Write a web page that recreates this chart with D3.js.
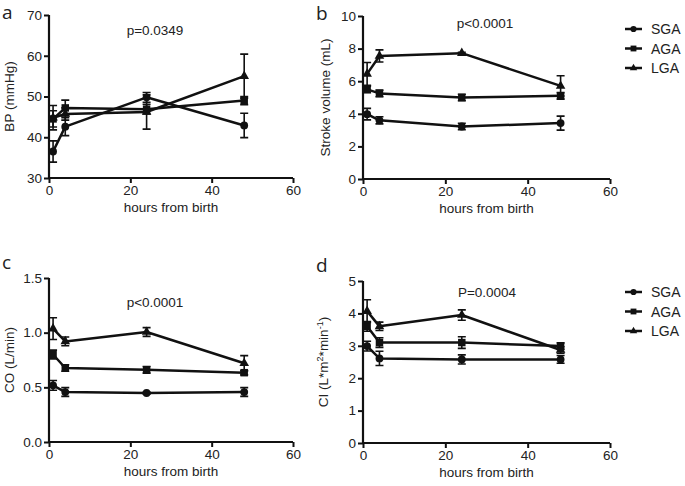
<!DOCTYPE html>
<html>
<head>
<meta charset="utf-8">
<script src="https://cdn.jsdelivr.net/npm/d3@7"></script>
<style>
  body { margin: 0; background: #fff; }
  text { font-family: "Liberation Sans", Arial, sans-serif; fill: #222; }
</style>
</head>
<body>
<svg id="chart" width="685" height="486"></svg>
<script>
// 1: DATA
const hours = [1, 4, 24, 48];
const groups = ["SGA", "AGA", "LGA"];

// BP (mmHg)
const bpSGA = [36.5, 42.6, 49.8, 42.9];
const bpSGAerr = [2.6, 2.2, 1.2, 3.0];
const bpAGA = [44.5, 47.2, 46.9, 49.0];
const bpAGAerr = [2.0, 1.9, 1.2, 1.0];
const bpLGA = [44.8, 45.7, 46.2, 55.0];
const bpLGAerr = [3.0, 1.5, 4.2, 5.4];

// Stroke volume (mL)
const svSGA = [3.98, 3.6, 3.22, 3.43];
const svSGAerr = [0.35, 0.22, 0.2, 0.43];
const svAGA = [5.5, 5.25, 5.0, 5.1];
const svAGAerr = [0.2, 0.2, 0.2, 0.2];
const svLGA = [6.45, 7.55, 7.72, 5.71];
const svLGAerr = [0.7, 0.37, 0.05, 0.62];

// CO (L/min)
const coSGA = [0.518, 0.457, 0.448, 0.457];
const coSGAerr = [0.045, 0.04, 0.01, 0.04];
const coAGA = [0.8, 0.677, 0.66, 0.634];
const coAGAerr = [0.04, 0.03, 0.03, 0.02];
const coLGA = [1.037, 0.92, 1.006, 0.72];
const coLGAerr = [0.1, 0.04, 0.04, 0.07];

// CI (L*m2*min-1)
const ciSGA = [2.99, 2.61, 2.58, 2.58];
const ciSGAerr = [0.15, 0.22, 0.14, 0.12];
const ciAGA = [3.6, 3.1, 3.1, 2.99];
const ciAGAerr = [0.15, 0.15, 0.18, 0.1];
const ciLGA = [4.07, 3.6, 3.95, 2.87];
const ciLGAerr = [0.35, 0.13, 0.16, 0.1];

const xTicks = [0, 20, 40, 60];

// 2: PANEL SETUP
const svg = d3.select("#chart");

const panels = [
  { letter: "a", x0: 49, x1: 293, yTop: 15, yBot: 178, domain: [30, 70], ticks: [30, 40, 50, 60, 70], fmt: d3.format("d"),
    ylabel: "BP (mmHg)", labX: 14, p: "p=0.0349", pX: 155, pY: 35,
    series: [[bpSGA, bpSGAerr], [bpAGA, bpAGAerr], [bpLGA, bpLGAerr]], legend: false },
  { letter: "b", x0: 363, x1: 610, yTop: 16, yBot: 179, domain: [0, 10], ticks: [0, 2, 4, 6, 8, 10], fmt: d3.format("d"),
    ylabel: "Stroke volume (mL)", labX: 330, p: "p<0.0001", pX: 485, pY: 28,
    series: [[svSGA, svSGAerr], [svAGA, svAGAerr], [svLGA, svLGAerr]], legend: true, legY: 29 },
  { letter: "c", x0: 49, x1: 293, yTop: 278, yBot: 442, domain: [0, 1.5], ticks: [0, 0.5, 1.0, 1.5], fmt: d3.format(".1f"),
    ylabel: "CO (L/min)", labX: 14, p: "p<0.0001", pX: 155, pY: 307,
    series: [[coSGA, coSGAerr], [coAGA, coAGAerr], [coLGA, coLGAerr]], legend: false },
  { letter: "d", x0: 363, x1: 610, yTop: 281, yBot: 443, domain: [0, 5], ticks: [0, 1, 2, 3, 4, 5], fmt: d3.format("d"),
    ylabel: "CI", labX: 328, p: "P=0.0004", pX: 487, pY: 297,
    series: [[ciSGA, ciSGAerr], [ciAGA, ciAGAerr], [ciLGA, ciLGAerr]], legend: true, legY: 292 }
];

const symbols = [d3.symbolCircle, d3.symbolSquare, d3.symbolTriangle];
const symSize = [48, 56, 40];
const legSize = [30, 34, 24];

panels.forEach(p => {
  const g = svg.append("g");
  const x = d3.scaleLinear().domain([0, 60]).range([p.x0, p.x1]);
  const y = d3.scaleLinear().domain(p.domain).range([p.yBot, p.yTop]);

  // 3: AXES
  const xAxis = g.append("g")
    .attr("transform", `translate(0,${p.yBot})`)
    .call(d3.axisBottom(x).tickValues(xTicks).tickSize(5).tickPadding(2));
  const yAxis = g.append("g")
    .attr("transform", `translate(${p.x0},0)`)
    .call(d3.axisLeft(y).tickValues(p.ticks).tickFormat(p.fmt).tickSize(5).tickPadding(2));
  [xAxis, yAxis].forEach(ax => {
    ax.select(".domain").attr("stroke", "#111").attr("stroke-width", 2.2)
      .attr("d", ax === xAxis ? `M${p.x0 - 1},0H${p.x1}` : `M0,${p.yTop}V${p.yBot + 1}`);
    ax.selectAll(".tick line").attr("stroke", "#111").attr("stroke-width", 2);
    ax.selectAll(".tick text").style("font-size", "13.5px").style("fill", "#222");
  });

  // 4: LINES, ERROR BARS, MARKERS
  const line = d3.line().x((d, i) => x(hours[i])).y(d => y(d));
  p.series.forEach((s, k) => {
    const [vals, errs] = s;
    g.append("path")
      .attr("d", line(vals))
      .attr("fill", "none")
      .attr("stroke", "#111")
      .attr("stroke-width", 2.5)
      .attr("stroke-linejoin", "round");

    vals.forEach((v, i) => {
      const cx = x(hours[i]);
      const yt = y(v + errs[i]), yb = y(v - errs[i]);
      g.append("path")
        .attr("d", `M${cx},${yt}V${yb}M${cx - 4},${yt}H${cx + 4}M${cx - 4},${yb}H${cx + 4}`)
        .attr("stroke", "#111").attr("stroke-width", 1.6).attr("fill", "none");
      g.append("path")
        .attr("d", d3.symbol().type(symbols[k]).size(symSize[k])())
        .attr("transform", `translate(${cx},${y(v)})`)
        .attr("fill", "#111");
    });
  });

  // 5: LABELS
  g.append("text")
    .attr("x", (p.x0 + p.x1) / 2)
    .attr("y", p.yBot + 34)
    .attr("text-anchor", "middle")
    .style("font-size", "13.5px")
    .text("hours from birth");

  const yl = g.append("text")
    .attr("transform", `translate(${p.labX},${(p.yTop + p.yBot) / 2}) rotate(-90)`)
    .attr("text-anchor", "middle")
    .style("font-size", "13.5px");
  if (p.ylabel === "CI") {
    yl.append("tspan").text("CI (L*m");
    yl.append("tspan").attr("dy", -5).style("font-size", "9px").text("2");
    yl.append("tspan").attr("dy", 5).text("*min");
    yl.append("tspan").attr("dy", -5).style("font-size", "9px").text("-1");
    yl.append("tspan").attr("dy", 5).text(")");
  } else {
    yl.text(p.ylabel);
  }

  g.append("text")
    .attr("x", p.pX)
    .attr("y", p.pY)
    .attr("text-anchor", "middle")
    .style("font-size", "13.5px")
    .text(p.p);

  g.append("text")
    .attr("x", p.x0 - 47)
    .attr("y", p.yTop + (p.letter === "a" || p.letter === "b" ? 4 : -9))
    .style("font-family", "'Open Sans', sans-serif")
    .style("font-size", "19px")
    .text(p.letter);

  // 6: LEGEND
  if (p.legend) {
    groups.forEach((name, k) => {
      const lg = g.append("g").attr("transform", `translate(625,${p.legY + k * 19.5})`);
      lg.append("line").attr("x1", 0).attr("x2", 17).attr("stroke", "#111").attr("stroke-width", 2.5);
      lg.append("path")
        .attr("d", d3.symbol().type(symbols[k]).size(legSize[k])())
        .attr("transform", "translate(8.5,0)")
        .attr("fill", "#111");
      lg.append("text").attr("x", 26).attr("y", 5).style("font-size", "14px").text(name);
    });
  }
});
</script>
</body>
</html>
